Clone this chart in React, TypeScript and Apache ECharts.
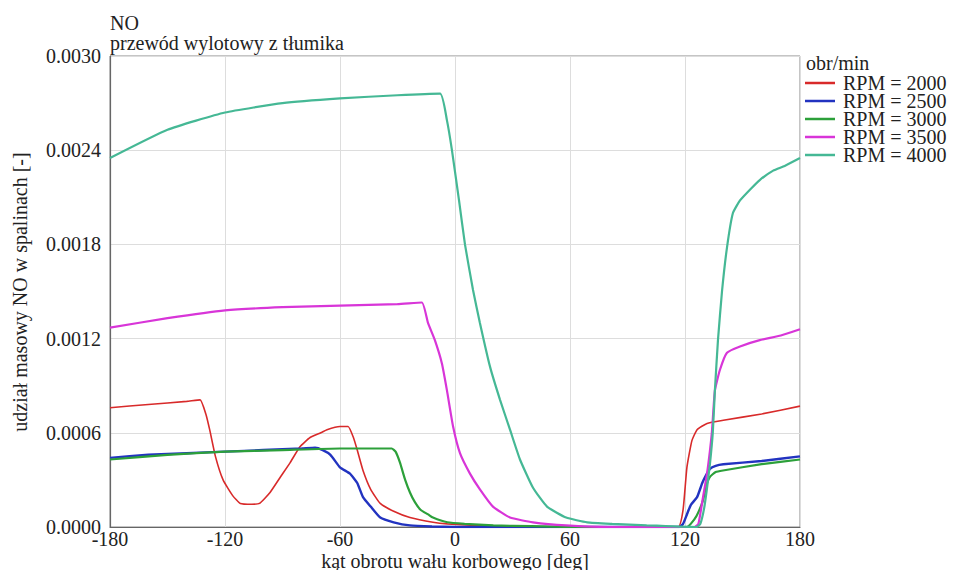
import React, { useEffect, useRef } from "react";
import * as echarts from "echarts";

const xTicks = [-180, -120, -60, 0, 60, 120, 180];
const yTicks = [0, 0.0006, 0.0012, 0.0018, 0.0024, 0.003];

const seriesNames = ["RPM = 2000", "RPM = 2500", "RPM = 3000", "RPM = 3500", "RPM = 4000"];
const seriesColors = ["#d82a2a", "#2233c0", "#2ca03a", "#d835d8", "#45b895"];
const seriesWidths = [1.6, 2.4, 2.2, 2.2, 2.2];

const rpm2000Angle = [-180, -160, -140, -133, -130, -128, -125, -121, -116, -112, -106, -102, -96.5, -91, -86, -81, -75.6, -70, -66.8, -60, -55.8, -53, -51, -48, -44, -39, -32, -23.5, -11.5, -4, 20, 40, 116.4, 119, 121, 123.6, 126.3, 131.5, 140, 160, 180];
const rpm2000Value = [0.00076, 0.00078, 0.0008, 0.00081, 0.00072, 0.00062, 0.00045, 0.0003, 0.0002, 0.00015, 0.000145, 0.00015, 0.00022, 0.00032, 0.00041, 0.00051, 0.00057, 0.0006, 0.00062, 0.00064, 0.00064, 0.00057, 0.00049, 0.00036, 0.00024, 0.00015, 0.0001, 0.00006, 0.00003, 0.00002, 0.000005, 0, 0, 0.00011, 0.00038, 0.00055, 0.00062, 0.00066, 0.00068, 0.00072, 0.00077];

const rpm2500Angle = [-180, -160, -140, -120, -100, -80, -73, -69, -65, -60, -54.8, -51, -48, -44, -39, -32, -23.5, -12, 0, 117, 119, 121, 123, 126.3, 129, 131, 133, 136, 140, 160, 180];
const rpm2500Value = [0.00044, 0.00046, 0.00047, 0.00048, 0.00049, 0.0005, 0.000505, 0.00049, 0.00046, 0.00038, 0.00034, 0.00028, 0.00019, 0.00013, 0.00006, 0.00003, 0.00001, 0.000003, 0, 0, 0.00002, 0.00008, 0.00014, 0.00019, 0.00028, 0.00033, 0.00037, 0.00039, 0.0004, 0.00042, 0.00045];

const rpm3000Angle = [-180, -150, -120, -90, -60, -33, -31, -28.7, -26, -23.5, -21, -18, -14, -11.5, -4, 5, 20, 40, 60, 121, 123, 126, 129.4, 131, 133, 136, 139.8, 160, 180];
const rpm3000Value = [0.00043, 0.00046, 0.00048, 0.00049, 0.0005, 0.0005, 0.00048, 0.00041, 0.0003, 0.00022, 0.00016, 0.00011, 0.00008, 0.00006, 0.00003, 0.00002, 0.00001, 0.000005, 0, 0, 0.00002, 0.00007, 0.00017, 0.00026, 0.00032, 0.00035, 0.00036, 0.0004, 0.00043];

const rpm3500Angle = [-180, -150, -120, -90, -60, -30, -17.3, -14.1, -10.5, -6.8, -4.2, -1, 2.6, 7.8, 13, 19.8, 28.7, 40.7, 58, 80, 125, 127, 129.4, 131.5, 134, 135.6, 138.2, 141.9, 148.7, 159, 170, 180];
const rpm3500Value = [0.00127, 0.00133, 0.00138, 0.0014, 0.00141, 0.00142, 0.00143, 0.0013, 0.00119, 0.00104, 0.00087, 0.00064, 0.00047, 0.00034, 0.00024, 0.00013, 0.00006, 0.00003, 0.00001, 0, 0, 0.00002, 0.00019, 0.00034, 0.0006, 0.00087, 0.001, 0.00111, 0.00115, 0.00119, 0.00122, 0.00126];

const rpm4000Angle = [-180, -150, -120, -90, -60, -30, -7.8, -4.2, -1.6, 2.1, 5.2, 9.4, 13, 18.3, 23.5, 28.7, 33.9, 40.7, 48, 58, 69, 82, 100, 126, 128, 130, 131.5, 133, 134.5, 135.6, 137.2, 139.3, 141.9, 145, 148.7, 154, 159, 166, 172, 180];
const rpm4000Value = [0.00235, 0.00253, 0.00264, 0.0027, 0.00273, 0.00275, 0.00276, 0.00259, 0.0024, 0.00208, 0.0018, 0.00151, 0.0013, 0.00102, 0.00081, 0.00062, 0.00043, 0.00025, 0.00013, 0.00006, 0.00003, 0.00002, 0.00001, 0, 0.00002, 0.00012, 0.00025, 0.0004, 0.0006, 0.00087, 0.00119, 0.0015, 0.00178, 0.002, 0.00208, 0.00215, 0.00221, 0.00227, 0.0023, 0.00235];

const seriesAngles = [rpm2000Angle, rpm2500Angle, rpm3000Angle, rpm3500Angle, rpm4000Angle];
const seriesValues = [rpm2000Value, rpm2500Value, rpm3000Value, rpm3500Value, rpm4000Value];

const FONT = "Liberation Serif";
const FS = 20;

export default function App() {
  const ref = useRef<HTMLDivElement>(null);
  useEffect(() => {
    if (!ref.current) return;
    const chart = echarts.init(ref.current, undefined, { renderer: "svg" });
    const series = seriesNames.map((name, i) => ({
      name,
      type: "line",
      data: seriesAngles[i].map((a, j) => [a, seriesValues[i][j]]),
      showSymbol: false,
      symbol: "none",
      smooth: 0.15,
      lineStyle: { color: seriesColors[i], width: seriesWidths[i] },
      itemStyle: { color: seriesColors[i] },
      z: 2 + i,
    }));
    const txt = (extra: any) => ({
      fontFamily: FONT,
      fontSize: FS,
      fill: "#222",
      ...extra,
    });
    chart.setOption({
      animation: false,
      backgroundColor: "#ffffff",
      textStyle: { fontFamily: FONT },
      grid: {
        left: 110,
        right: 155,
        top: 56,
        bottom: 43,
        show: true,
        borderColor: "#8a8a8a",
        borderWidth: 1,
        backgroundColor: "transparent",
      },
      xAxis: {
        type: "value",
        min: xTicks[0],
        max: xTicks[xTicks.length - 1],
        interval: 60,
        axisLine: { show: true, onZero: false, lineStyle: { color: "#666", width: 1.2 } },
        axisTick: { show: false },
        splitLine: { show: true, lineStyle: { color: "#dddddd", width: 1 } },
        axisLabel: {
          fontFamily: FONT,
          fontSize: FS,
          color: "#222",
          margin: 2,
          formatter: (v: number) => String(v),
        },
      },
      yAxis: {
        type: "value",
        min: yTicks[0],
        max: yTicks[yTicks.length - 1],
        interval: 0.0006,
        axisLine: { show: true, onZero: false, lineStyle: { color: "#666", width: 1.2 } },
        axisTick: { show: false },
        splitLine: { show: true, lineStyle: { color: "#dddddd", width: 1 } },
        axisLabel: {
          fontFamily: FONT,
          fontSize: FS,
          color: "#222",
          margin: 9,
          formatter: (v: number) => v.toFixed(4),
        },
      },
      legend: {
        show: true,
        orient: "vertical",
        left: 805,
        top: 73,
        padding: 0,
        itemWidth: 30,
        itemHeight: 2.5,
        itemGap: -2,
        icon: "rect",
        data: seriesNames,
        textStyle: {
          fontFamily: FONT,
          fontSize: FS,
          color: "#222",
          padding: [0, 0, 0, 3],
        },
      },
      graphic: [
        { type: "text", x: 110, y: 23, style: txt({ text: "NO", verticalAlign: "middle" }) },
        {
          type: "text",
          x: 110,
          y: 43,
          style: txt({ text: "przewód wylotowy z tłumika", verticalAlign: "middle" }),
        },
        { type: "text", x: 806, y: 63, style: txt({ text: "obr/min", verticalAlign: "middle" }) },
        {
          type: "text",
          x: 455,
          y: 560.5,
          style: txt({ text: "kąt obrotu wału korbowego [deg]", align: "center", verticalAlign: "middle" }),
        },
        {
          type: "text",
          x: 20,
          y: 292,
          rotation: Math.PI / 2,
          style: txt({ text: "udział masowy NO w spalinach [-]", align: "center", verticalAlign: "middle" }),
        },
      ],
      series,
    });
    return () => chart.dispose();
  }, []);
  return (
    <div
      ref={ref}
      style={{ position: "fixed", left: 0, top: 0, width: 955, height: 570, background: "#fff" }}
    />
  );
}
